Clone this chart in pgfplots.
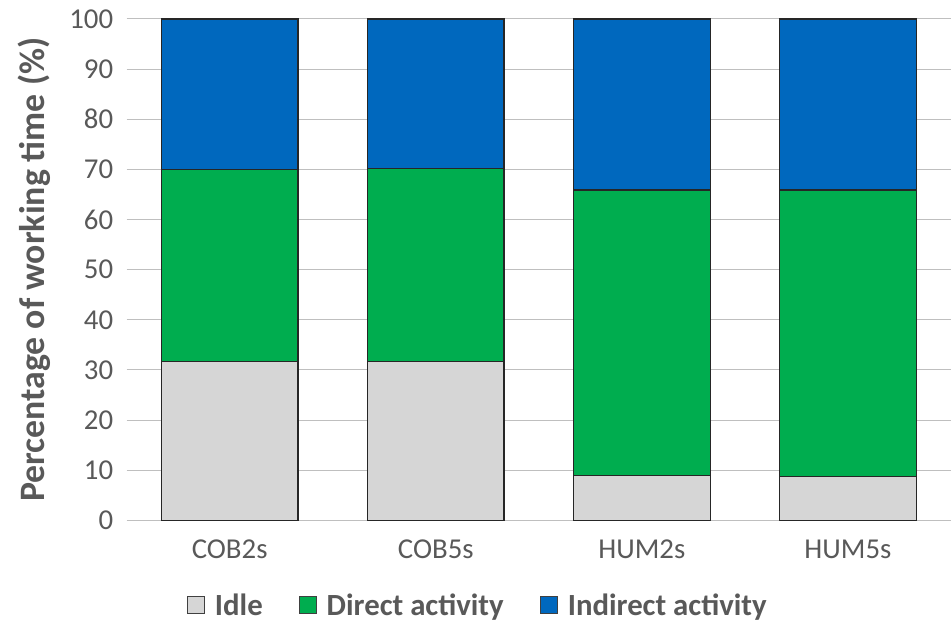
\documentclass[border=0pt]{standalone}
\usepackage{pgfplots}
\pgfplotsset{compat=1.18}
\usepackage{fontspec}
\setmainfont{Carlito}
\definecolor{idle}{HTML}{D6D6D6}
\definecolor{direct}{HTML}{00AD4F}
\definecolor{indirect}{HTML}{0068BE}
\definecolor{txt}{HTML}{595959}
\definecolor{grid}{HTML}{DEDEDE}
\begin{document}
\begin{tikzpicture}
\begin{axis}[
  at={(0,0)}, anchor=south west,
  scale only axis,
  width=827bp, height=503bp,
  ybar stacked,
  bar width=137bp,
  xmin=-0.5, xmax=3.5,
  ymin=0, ymax=100,
  xtick=data,
  xticklabels={COB2s,COB5s,HUM2s,HUM5s},
  ytick={0,10,...,100},
  axis line style={draw=none},
  major tick length=0pt,
  ymajorgrids,
  grid style={grid, line width=1.1bp},
  tick label style={font=\fontsize{29}{30}\selectfont, text=txt},
  /pgf/number format/assume math mode=true,
  xticklabel style={yshift=-16bp},
  yticklabel style={xshift=-10bp},
  ylabel={Percentage of working time (\%)},
  every axis y label/.style={at={(rel axis cs:-0.112,0.5)}, rotate=90, anchor=center,
    font=\bfseries\fontsize{36}{40}\selectfont, text=txt},
  legend style={at={(0.426,-0.169)}, anchor=center, draw=none,
    legend columns=3, font=\bfseries\fontsize{31}{34}\selectfont, text=txt,
    /tikz/every even column/.append style={column sep=34bp}},
  legend image code/.code={\draw[#1, draw=black!75, line width=1.2bp] (0bp,-8.5bp) rectangle (17bp,8.5bp); \path (25bp,0bp);},
  clip=false,
]
\addplot[fill=idle, draw=black!85, line width=1.2bp] coordinates {(0,31.7) (1,31.7) (2,9.0) (3,8.7)};
\addplot[fill=direct, draw=black!85, line width=1.2bp] coordinates {(0,38.3) (1,38.5) (2,56.9) (3,57.2)};
\addplot[fill=indirect, draw=black!85, line width=1.2bp] coordinates {(0,30.0) (1,29.8) (2,34.1) (3,34.1)};
\legend{Idle,Direct activity,Indirect activity}
\end{axis}
\pgfresetboundingbox
\path (-127bp,-102bp) rectangle (827bp,522bp);
\end{tikzpicture}
\end{document}
